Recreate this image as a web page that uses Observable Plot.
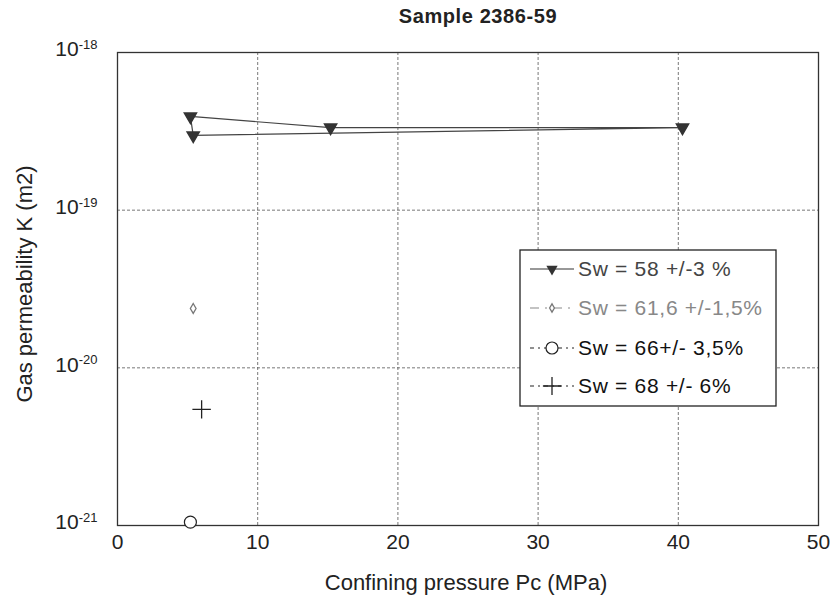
<!DOCTYPE html>
<html><head><meta charset="utf-8">
<script src="https://cdn.jsdelivr.net/npm/d3@7"></script>
<script src="https://cdn.jsdelivr.net/npm/@observablehq/plot@0.6"></script>
<style>
body{margin:0;background:#fff;font-family:"Liberation Sans",Arial,sans-serif;}
#title{height:30px;width:834px;position:relative;}
#title span{position:absolute;left:478px;top:5px;transform:translateX(-50%);font-weight:bold;font-size:20px;letter-spacing:0.6px;color:#222;white-space:nowrap;}
</style></head><body>
<div id="title"><span>Sample 2386-59</span></div>
<div id="chart"></div>
<script>
// Series 1: Sw = 58 +/-3 % (path order as drawn)
const s1P = [5.4, 5.2, 15.2, 40.3, 5.4];
const s1K = [2.98e-19, 3.93e-19, 3.34e-19, 3.34e-19, 2.98e-19];
// Series 2: Sw = 61,6 +/-1,5%
const s2P = [5.4];
const s2K = [2.38e-20];
// Series 3: Sw = 66+/- 3,5%
const s3P = [5.2];
const s3K = [1.05e-21];
// Series 4: Sw = 68 +/- 6%
const s4P = [6.0];
const s4K = [5.45e-21];

const legendLabels = ["Sw = 58 +/-3 %", "Sw = 61,6 +/-1,5%", "Sw = 66+/- 3,5%", "Sw = 68 +/- 6%"];
const xTicks = [0, 10, 20, 30, 40, 50];
const yTicks = [1e-21, 1e-20, 1e-19, 1e-18];
const yTickBase = "10";
const yTickExps = ["-21", "-20", "-19", "-18"];
const xLabel = "Confining pressure Pc (MPa)";
const yLabel = "Gas permeability K (m2)";

const toRows = (P, K) => P.map((p, i) => ({p, k: K[i]}));
const d1 = toRows(s1P, s1K), d2 = toRows(s2P, s2K), d3r = toRows(s3P, s3K), d4 = toRows(s4P, s4K);
const yIdx = d => yTicks.findIndex(t => Math.abs(Math.log10(t) - Math.log10(d)) < 1e-6);

const FONT = '"Liberation Sans", Arial, sans-serif';
const plot = Plot.plot({
  width: 834, height: 572,
  marginLeft: 117, marginRight: 16, marginTop: 22, marginBottom: 77,
  style: {fontFamily: FONT, color: "#222", background: "white"},
  x: {domain: [0, 50]},
  y: {type: "log", domain: [1e-21, 1e-18]},
  marks: [
    Plot.gridX(xTicks.slice(1, -1), {stroke: "#555", strokeOpacity: 1, strokeDasharray: "3,2", strokeWidth: 0.8}),
    Plot.gridY(yTicks.slice(1, -1), {stroke: "#555", strokeOpacity: 1, strokeDasharray: "3,2", strokeWidth: 0.8}),
    Plot.axisX({ticks: xTicks, tickSize: 0, tickPadding: 9, fontSize: 21, label: null}),
    Plot.axisY({ticks: yTicks, tickSize: 0, tickPadding: 20, fontSize: 21, dy: -3,
                tickFormat: d => yTickBase + "|" + yTickExps[yIdx(d)], label: null}),
    Plot.frame({stroke: "#333", strokeWidth: 1.3}),
    Plot.line(d1, {x: "p", y: "k", stroke: "#444", strokeWidth: 1.2}),
    Plot.dot(d1.slice(0, 4), {x: "p", y: "k", symbol: "triangle", rotate: 180, r: 4.5, fill: "#333", stroke: "#333"}),
    Plot.dot(d2, {x: "p", y: "k", symbol: "diamond", r: 3, fill: "white", stroke: "#777", strokeWidth: 1.3}),
    Plot.dot(d3r, {x: "p", y: "k", symbol: "circle", r: 6, fill: "white", stroke: "#222", strokeWidth: 1.2}),
    Plot.dot(d4, {x: "p", y: "k", symbol: "plus", r: 6, fill: "none", stroke: "#222", strokeWidth: 1.3})
  ]
});
document.getElementById("chart").appendChild(plot);

const svg = d3.select(plot);
// At this point every text in the SVG is a tick label: enlarge them
svg.selectAll("text").style("font-size", "21px");
// Make y tick labels "10" with a superscript exponent
svg.selectAll("text").each(function() {
  const t = d3.select(this);
  const s = t.text();
  if (s.includes("|")) {
    const [b, e] = s.split("|");
    t.selectAll("*").remove();
    t.text(null);
    t.append("tspan").text(b);
    t.append("tspan").style("font-size", "13px").attr("dy", "-0.55em").text(e);
  }
});

// Axis titles
svg.append("text").attr("x", 466).attr("y", 560).attr("text-anchor", "middle").style("font-size", "22px").attr("fill", "#222").text(xLabel);
svg.append("text").attr("transform", "translate(32,254) rotate(-90)").attr("text-anchor", "middle").style("font-size", "22px").attr("fill", "#222").text(yLabel);

// Legend (positions are layout)
const g = svg.append("g").attr("transform", "translate(520,220)");
g.append("rect").attr("width", 256).attr("height", 156).attr("fill", "white").attr("stroke", "#222").attr("stroke-width", 1.3);
const rowsY = [19, 58, 98, 136];
const styles = [
  {stroke: "#333", dash: null, text: "#444"},
  {stroke: "#888", dash: "9,6,2,6", text: "#888"},
  {stroke: "#222", dash: "4,4,2,4", text: "#111"},
  {stroke: "#222", dash: "4,4,2,4", text: "#111"}
];
legendLabels.forEach((lab, i) => {
  const y = rowsY[i], s = styles[i];
  g.append("line").attr("x1", 10).attr("x2", 54).attr("y1", y).attr("y2", y)
    .attr("stroke", s.stroke).attr("stroke-width", 1.2).attr("stroke-dasharray", s.dash);
  const cx = 32;
  if (i === 0) g.append("path").attr("d", d3.symbol(d3.symbolTriangle, 55)()).attr("transform", `translate(${cx},${y}) rotate(180)`).attr("fill", "#333");
  if (i === 1) g.append("path").attr("d", d3.symbol(d3.symbolDiamond, 20)()).attr("transform", `translate(${cx},${y})`).attr("fill", "white").attr("stroke", "#777").attr("stroke-width", 1.3);
  if (i === 2) g.append("circle").attr("cx", cx).attr("cy", y).attr("r", 6).attr("fill", "white").attr("stroke", "#222").attr("stroke-width", 1.2);
  if (i === 3) g.append("path").attr("d", d3.symbol(d3.symbolPlus, 110)()).attr("transform", `translate(${cx},${y})`).attr("fill", "none").attr("stroke", "#222").attr("stroke-width", 1.3);
  g.append("text").attr("x", 58).attr("y", y).attr("dy", "0.35em").attr("text-anchor", "start")
    .style("font-size", "21px").attr("letter-spacing", 0.7).attr("fill", s.text).text(lab);
});
</script>
</body></html>
